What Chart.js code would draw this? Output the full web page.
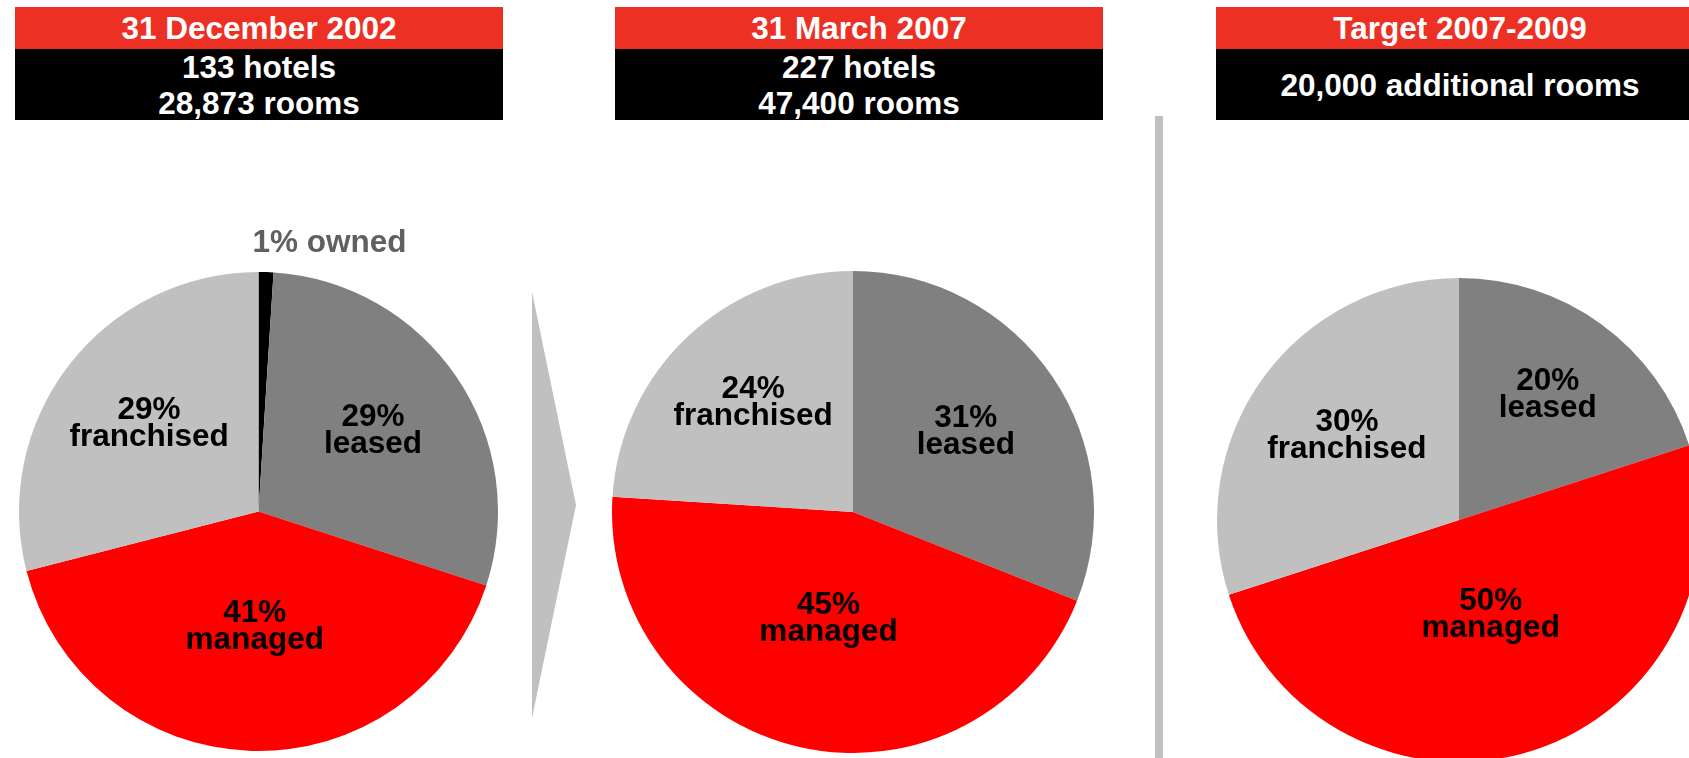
<!DOCTYPE html>
<html>
<head>
<meta charset="utf-8">
<script src="https://cdn.jsdelivr.net/npm/chart.js@4.4.1/dist/chart.umd.min.js"></script>
<style>
html,body{margin:0;padding:0;width:1689px;height:758px;overflow:hidden;background:#fff;
  font-family:"Liberation Sans",Arial,sans-serif;}
.hdr{position:absolute;top:7px;width:488px;color:#fff;font-weight:bold;font-size:31.5px;text-align:center;}
.hdr .t{background:#ED3024;height:42px;line-height:42px;white-space:nowrap;}
.hdr .b{background:#000;height:71px;line-height:36px;display:flex;flex-direction:column;justify-content:center;white-space:nowrap;}
canvas{position:absolute;}
#sep{position:absolute;left:1155px;top:116px;width:8px;height:642px;background:#C0C0C0;}
#arrow{position:absolute;left:532px;top:292px;width:44px;height:426px;background:#C0C0C0;
  clip-path:polygon(0 0,100% 50%,0 100%);}
</style>
</head>
<body>
<div id="sep"></div>
<div id="arrow"></div>
<canvas id="c1" width="479" height="539" style="left:19px;top:212px;"></canvas>
<canvas id="c2" width="482" height="482" style="left:612px;top:271px;"></canvas>
<canvas id="c3" width="484" height="484" style="left:1217px;top:278px;"></canvas>
<script>
// ---- data ----
const categories = ['owned', 'leased', 'managed', 'franchised'];
const share2002 = [1, 29, 41, 29];
const share2007 = [0, 31, 45, 24];
const shareTarget = [0, 20, 50, 30];
const panelTitles = ['31 December 2002', '31 March 2007', 'Target 2007-2009'];
const panelLines = [['133 hotels', '28,873 rooms'], ['227 hotels', '47,400 rooms'], ['20,000 additional rooms']];
const sliceColors = ['#000000', '#808080', '#FF0000', '#C0C0C0'];

// ---- headers ----
const hdrLeft = [15, 615, 1216];
panelTitles.forEach((t, i) => {
  const d = document.createElement('div');
  d.className = 'hdr';
  d.style.left = hdrLeft[i] + 'px';
  const top = document.createElement('div');
  top.className = 't';
  top.textContent = t;
  const bot = document.createElement('div');
  bot.className = 'b';
  panelLines[i].forEach(l => {
    const s = document.createElement('div');
    s.textContent = l;
    bot.appendChild(s);
  });
  d.appendChild(top);
  d.appendChild(bot);
  document.body.appendChild(d);
});

// ---- label plugin ----
const FONT = 'bold 31.5px "Liberation Sans", Arial, sans-serif';
const sliceLabels = {
  id: 'sliceLabels',
  afterDatasetsDraw(chart) {
    const ctx = chart.ctx;
    const meta = chart.getDatasetMeta(0);
    const ds = chart.data.datasets[0];
    ctx.save();
    ctx.font = FONT;
    ctx.textBaseline = 'alphabetic';
    meta.data.forEach((arc, i) => {
      const v = ds.data[i];
      if (!v) return;
      const p = arc.getProps(['x', 'y', 'startAngle', 'endAngle', 'outerRadius'], true);
      const name = chart.data.labels[i];
      if (v < 5) {
        ctx.fillStyle = '#606060';
        ctx.textAlign = 'left';
        ctx.fillText(v + '% ' + name, p.x - 6, p.y - p.outerRadius - 20);
        return;
      }
      const mid = (p.startAngle + p.endAngle) / 2;
      const a = (p.endAngle - p.startAngle) / 2;
      const d = 2 * p.outerRadius * Math.sin(a) / (3 * a);
      const cx = p.x + d * Math.cos(mid);
      const cy = p.y + d * Math.sin(mid);
      ctx.fillStyle = '#000';
      ctx.textAlign = 'center';
      ctx.fillText(v + '%', cx, cy - 8);
      ctx.fillText(name, cx, cy + 19);
    });
    ctx.restore();
  }
};

function makePie(id, values, padTop) {
  new Chart(document.getElementById(id), {
    type: 'pie',
    data: {
      labels: categories,
      datasets: [{ data: values, backgroundColor: sliceColors, borderWidth: 0, hoverOffset: 0 }]
    },
    options: {
      responsive: false,
      animation: false,
      layout: { padding: { top: padTop, left: 0, right: 0, bottom: 0 } },
      plugins: { legend: { display: false }, tooltip: { enabled: false } },
      events: []
    },
    plugins: [sliceLabels]
  });
}
makePie('c1', share2002, 60);
makePie('c2', share2007, 0);
makePie('c3', shareTarget, 0);
</script>
</body>
</html>
